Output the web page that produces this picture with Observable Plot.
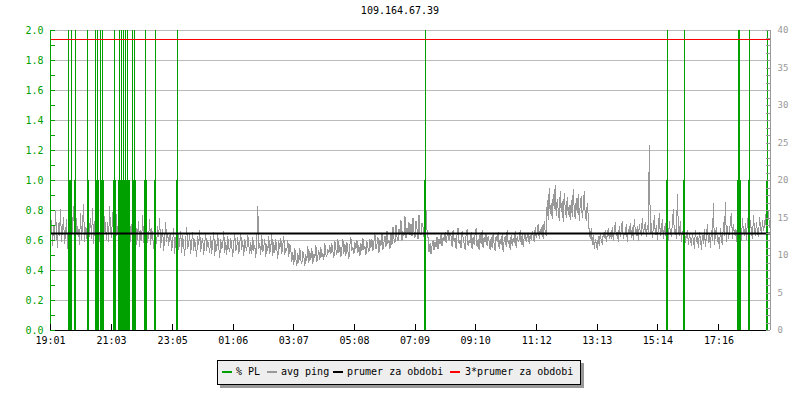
<!DOCTYPE html>
<html><head><meta charset="utf-8">
<script src="https://cdn.jsdelivr.net/npm/d3@7"></script>
<script src="https://cdn.jsdelivr.net/npm/@observablehq/plot@0.6"></script>
<style>
body{margin:0;background:#fff;}
#wrap{position:relative;width:800px;height:400px;font-family:"DejaVu Sans Mono",monospace;overflow:hidden;}
#title{position:absolute;left:0;width:800px;top:5px;text-align:center;font-size:10px;line-height:12px;color:#000;}
#chart{position:absolute;left:0;top:0;}
#legend{position:absolute;left:217px;top:360px;width:362px;height:23px;background:#eeeeee;border:1px solid #000;box-shadow:3px 3px 0 #999;font-size:10px;}
#legend span.sw{position:absolute;top:10px;width:10px;height:2px;}
#legend span.tx{position:absolute;top:5px;line-height:12px;white-space:pre;color:#000;}
</style></head>
<body>
<div id="wrap">
  <div id="chart"></div>
  <div id="title"></div>
  <div id="legend"></div>
</div>
<script>
// ---- data ----
const titleText = "109.164.67.39";
const tickMinutes = [0,122,244,365,486,607,728,849,971,1092,1213,1335];
const tickLabels = ["19:01","21:03","23:05","01:06","03:07","05:08","07:09","09:10","11:12","13:13","15:14","17:16"];
const spanMinutes = 1438;
const leftTicks = [0,0.2,0.4,0.6,0.8,1.0,1.2,1.4,1.6,1.8,2.0];
const rightTicks = [0,5,10,15,20,25,30,35,40];
const pingStep = 2; // minutes per ping sample
const ping = [
 12.4,14.6,11.3,13.9,12.0,15.8,13.2,11.1,14.3,12.7,16.1,11.8,13.5,15.0,11.6,12.9,14.8,10.9,13.6,12.2,
 15.4,11.7,14.0,16.5,12.5,11.2,14.9,12.8,13.4,11.5,15.6,12.1,14.2,16.8,11.9,13.7,12.3,15.2,11.4,13.8,
 14.9,12.2,16.3,11.6,13.8,15.5,12.5,17.1,13.0,11.8,14.7,12.9,16.0,11.4,15.2,13.6,12.1,14.4,11.9,16.6,
 13.2,12.4,15.7,11.7,14.1,17.8,12.6,13.9,11.3,15.0,12.8,14.6,11.6,13.4,16.2,12.0,14.3,11.5,13.1,15.3,
 11.8,14.2,12.4,10.9,13.7,15.1,11.5,12.9,14.5,11.2,13.3,12.0,15.3,11.7,12.6,14.0,10.8,13.1,12.2,14.8,
 11.4,13.6,12.7,10.9,14.1,12.3,11.6,13.9,12.5,15.0,11.1,12.8,13.5,10.7,12.1,14.4,11.9,13.0,11.3,12.6,
 12.9,10.6,11.8,13.6,10.2,12.4,11.1,14.0,10.8,11.9,13.2,10.4,12.7,11.3,10.0,12.1,13.8,10.9,11.5,12.8,
 10.3,11.7,13.1,10.6,12.2,11.0,9.9,12.6,11.4,13.4,10.5,11.8,12.3,10.1,11.6,13.0,10.7,12.0,11.2,10.4,
 12.5,10.3,11.6,13.1,10.0,11.9,10.7,12.8,11.2,9.7,12.2,10.9,11.4,13.2,10.4,11.8,10.1,12.6,11.0,10.5,
 12.3,11.3,9.8,11.7,12.9,10.6,11.1,12.4,10.2,11.5,13.0,10.8,11.9,10.0,12.1,11.2,10.6,12.7,11.4,10.3,
 11.8,10.2,12.4,10.7,11.3,9.7,12.0,16.6,10.9,11.6,10.1,12.7,10.5,11.2,12.2,9.8,11.5,10.6,12.5,10.3,
 11.1,12.8,10.0,11.7,10.4,12.1,10.8,9.6,11.9,10.9,12.3,10.2,11.4,12.6,10.1,11.0,10.7,12.0,9.9,11.5,
 10.8,9.2,10.4,8.8,10.9,9.6,8.6,10.3,9.1,11.0,9.4,8.9,10.6,9.8,8.7,10.1,9.3,11.2,9.0,10.5,
 9.5,10.9,8.9,10.2,9.7,11.4,9.2,10.0,10.7,9.4,11.1,9.8,10.3,9.5,11.6,10.1,9.9,10.8,10.4,11.3,
 10.2,11.6,10.5,9.7,11.9,10.8,10.1,12.2,10.4,11.3,9.8,11.0,12.1,10.3,11.5,10.0,11.8,10.6,9.6,11.4,
 12.4,10.7,11.1,10.2,11.7,10.9,12.0,10.4,11.3,9.9,11.6,10.6,12.3,10.8,11.2,10.1,11.9,11.0,10.5,12.2,
 11.0,12.2,10.6,11.9,12.8,10.9,11.5,12.4,10.4,12.1,11.3,13.0,10.8,11.7,12.6,11.1,13.3,11.6,12.0,10.9,
 12.9,11.4,13.8,12.2,11.7,14.1,12.5,11.9,13.5,12.8,14.7,12.0,13.2,12.6,15.2,12.3,13.7,12.9,14.4,12.7,
 14.2,12.6,15.0,13.1,12.4,14.6,13.5,12.2,15.4,13.0,12.7,14.3,13.8,12.5,14.9,16.0,13.3,12.4,10.5,11.6,
 10.2,11.3,12.0,10.7,11.8,11.1,12.5,10.9,12.2,11.5,12.8,11.3,12.4,11.9,13.1,11.7,12.6,13.4,12.0,12.9,
 12.6,11.2,13.4,11.8,12.3,10.9,12.9,13.7,11.5,12.1,11.0,13.2,12.4,11.6,10.8,12.7,13.5,11.3,12.0,11.7,
 13.1,10.9,12.5,11.4,12.8,13.6,11.1,12.2,10.7,12.9,11.6,13.3,11.0,12.4,11.8,13.0,11.3,12.6,11.9,10.8,
 12.4,11.0,12.9,11.5,10.7,12.6,11.8,13.1,10.9,12.2,11.4,12.8,10.5,11.9,12.5,11.2,13.4,11.6,12.0,10.8,
 12.7,11.3,12.3,11.7,13.2,11.0,12.6,11.9,12.1,13.3,11.5,12.8,11.2,12.4,13.0,11.8,12.5,12.9,11.6,12.7,
 12.1,13.2,12.6,11.8,13.7,12.4,13.0,14.2,12.3,13.5,12.8,14.0,12.2,14.6,13.1,12.7,17.4,14.8,18.9,15.6,
 16.9,14.9,18.1,16.2,19.4,15.3,17.5,16.0,14.7,18.6,15.8,17.2,14.5,18.3,16.4,15.1,17.8,15.5,16.7,14.8,
 17.3,15.2,18.8,16.1,14.9,17.6,15.7,18.2,14.6,16.8,17.9,15.0,16.4,18.5,15.4,14.7,16.9,15.3,13.1,12.3,
 13.6,11.4,12.7,10.9,12.1,11.6,10.8,12.5,11.3,13.0,12.0,11.5,12.9,12.4,13.4,11.8,12.8,13.6,12.2,13.1,
 12.3,13.8,12.0,13.2,14.4,12.6,13.1,11.9,13.9,12.5,13.4,14.6,12.2,13.0,12.8,14.1,11.8,13.5,12.9,14.3,
 12.4,13.7,12.1,14.8,13.3,12.6,13.9,12.0,14.2,13.1,12.7,15.0,12.9,13.6,14.4,12.5,14.0,13.2,24.7,13.0,
 14.3,12.4,13.6,15.3,12.8,14.0,12.1,13.7,15.6,12.6,13.3,14.8,12.2,13.9,12.7,15.1,13.4,12.0,14.5,13.1,
 12.5,14.2,16.2,12.9,13.5,12.3,18.1,13.8,12.6,14.6,11.9,13.2,12.4,14.0,11.7,12.8,13.4,11.5,12.9,12.2,
 11.3,12.9,12.1,10.9,13.4,11.8,12.5,11.0,13.1,12.3,10.8,12.7,11.6,13.5,11.2,12.4,14.2,11.7,12.8,11.1,
 13.3,12.0,17.0,11.5,12.7,13.8,11.9,12.4,10.9,13.6,12.2,11.4,14.4,12.6,17.1,11.8,13.9,12.3,13.0,14.7,
 15.6,12.3,14.1,12.8,13.5,11.9,14.6,15.4,12.5,13.8,12.0,14.9,13.2,12.6,14.3,12.1,15.0,13.6,12.4,14.7,
 13.0,12.2,15.3,13.5,12.7,14.4,13.1,12.5,15.1,13.8,12.9,14.6,13.3,14.0,15.5,12.8,14.2,15.8,13.7,15.0
];
const plMinutes = [36,38,40,42, 48,50, 74,76, 90,92,94,96, 100,102,104,106, 126,128,130,
  136,138,140,142,144,146,148,150,152,154,156,158, 164,166,168,170, 188,190,192, 208,210, 252,254,
  746,748, 1230,1232, 1264,1266, 1372,1374,1376,1378, 1394,1396, 1430,1432];
const plValues = [3,1,1,3, 1,3, 3,1, 3,1,3,1, 3,1,3,1, 1,3,1,
  1,3,1,3,1,3,1,3,1,3,1,1, 3,1,3,1, 1,3,1, 1,3, 1,3,
  1,3, 1,3, 1,3, 1,3,3,1, 1,3, 1,3];
const avgPing = 12.93;
const legendItems = ["% PL","avg ping","prumer za obdobi","3*prumer za obdobi"];
const colPL = "#00a000", colPing = "#999999", colAvg = "#000000", colAvg3 = "#ff0000";

// ---- build tables ----
const pingData = ping.map((v,i)=>({m:i*pingStep, v}));
const plData = plMinutes.map((m,i)=>({m, v:plValues[i]}));
const plScale = 20; // 1 % PL on left axis == 20 ms on right axis
const leftMinor = d3.range(0, 2.0001, 0.1).map(v=>v*plScale);
const rightMinor = d3.range(0, 41, 1);

const chart = Plot.plot({
  width: 800, height: 400,
  marginTop: 30, marginBottom: 70, marginLeft: 50, marginRight: 30,
  x: {domain: [0, spanMinutes], axis: null},
  y: {domain: [0, 40], axis: null},
  style: {fontFamily: "'DejaVu Sans Mono', monospace", fontSize: "10px", background: "transparent", overflow: "visible"},
  marks: [
    Plot.ruleY(leftTicks.slice(1), {y: d=>d*plScale, stroke: "#bbbbbb", shapeRendering: "crispEdges"}),
    Plot.line(pingData, {x: "m", y: "v", stroke: colPing, strokeWidth: 1, clip: true, shapeRendering: "crispEdges"}),
    Plot.rectY(plData, {x1: "m", x2: d=>d.m+2, y1: 0, y2: d=>d.v*plScale, fill: colPL, clip: true, shapeRendering: "crispEdges"}),
    Plot.ruleY([avgPing], {stroke: colAvg, strokeWidth: 2}),
    Plot.ruleY([avgPing*3], {stroke: colAvg3, strokeWidth: 1, shapeRendering: "crispEdges"}),
    // axis lines
    Plot.ruleX([0], {stroke: colPL, shapeRendering: "crispEdges"}),
    Plot.ruleX([spanMinutes], {stroke: "#999999", shapeRendering: "crispEdges"}),
    Plot.ruleY([0], {stroke: "#000", shapeRendering: "crispEdges"}),
    // tick marks (inward)
    Plot.ruleY(leftMinor, {y: d=>d, x1: 0, x2: 10, stroke: colPL, shapeRendering: "crispEdges"}),
    Plot.ruleY(rightMinor, {y: d=>d, x1: spanMinutes-8, x2: spanMinutes, stroke: "#999999", shapeRendering: "crispEdges"}),
    Plot.ruleX(tickMinutes, {x: d=>d, y1: 0, y2: 0.8, stroke: "#000", shapeRendering: "crispEdges"}),
    // tick labels
    Plot.text(leftTicks, {y: d=>d*plScale, text: d=>d.toFixed(1), frameAnchor: "left", textAnchor: "end", dx: -7, fill: colPL, fontSize: 10}),
    Plot.text(rightTicks, {y: d=>d, text: d=>String(d), frameAnchor: "right", textAnchor: "start", dx: 7, fill: "#999999", fontSize: 9}),
    Plot.text(tickMinutes, {x: d=>d, text: (d,i)=>tickLabels[i], frameAnchor: "bottom", lineAnchor: "top", dy: 6, fill: "#000", fontSize: 10})
  ]
});
document.getElementById("chart").appendChild(chart);
document.getElementById("title").textContent = titleText;

// legend
const lg = document.getElementById("legend");
const swLeft = [4, 49, 115, 232], txLeft = [18, 63, 129, 247];
const swCol = [colPL, colPing, colAvg, colAvg3];
legendItems.forEach((t,i)=>{
  const s = document.createElement("span"); s.className="sw"; s.style.left=swLeft[i]+"px"; s.style.background=swCol[i]; lg.appendChild(s);
  const x = document.createElement("span"); x.className="tx"; x.style.left=txLeft[i]+"px"; x.textContent=t; lg.appendChild(x);
});
</script>
</body></html>
